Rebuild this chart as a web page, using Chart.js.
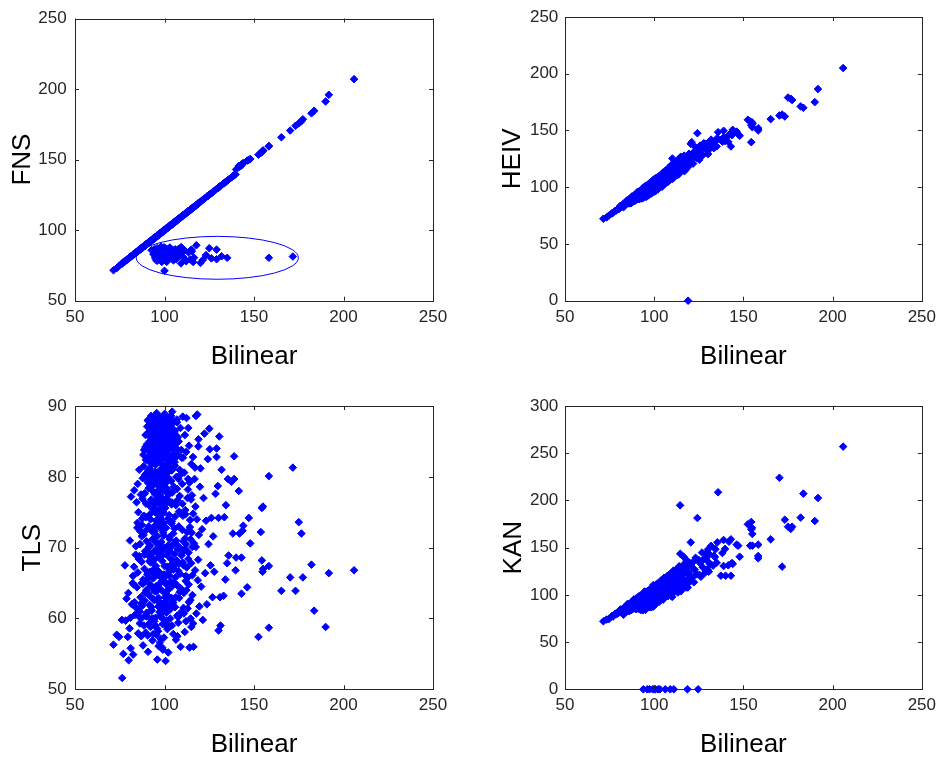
<!DOCTYPE html>
<html>
<head>
<meta charset="utf-8">
<script src="https://cdn.jsdelivr.net/npm/chart.js@4.4.1/dist/chart.umd.min.js"></script>
<style>
  body { margin: 0; background: #fff; width: 942px; height: 760px; position: relative; overflow: hidden; }
  canvas { position: absolute; }
</style>
</head>
<body>
<canvas id="fnsChart" width="471" height="380" style="left:0;top:0"></canvas>
<canvas id="heivChart" width="471" height="380" style="left:471px;top:0"></canvas>
<canvas id="tlsChart" width="471" height="380" style="left:0;top:380px"></canvas>
<canvas id="kanChart" width="471" height="380" style="left:471px;top:380px"></canvas>
<script>
// same bilinear estimate for every panel, one entry per image
const bilinear = [
  71.5, 73.3, 74.6, 76.2, 76.4, 77.0, 77.9, 78.3, 78.8, 79.5,
  79.8, 80.0, 80.5, 80.7, 81.1, 81.3, 81.8, 82.2, 82.5, 83.0,
  83.1, 83.5, 83.9, 84.2, 84.6, 84.9, 85.1, 85.4, 85.9, 86.0,
  86.3, 86.6, 86.8, 87.0, 87.2, 87.4, 87.6, 87.8, 88.0, 88.1,
  88.3, 88.5, 88.6, 88.8, 89.0, 89.1, 89.2, 89.4, 89.5, 89.6,
  89.7, 89.8, 89.9, 90.0, 90.2, 90.3, 90.5, 90.6, 90.8, 90.9,
  91.0, 91.2, 91.3, 91.5, 91.6, 91.8, 91.9, 92.0, 92.1, 92.3,
  92.4, 92.5, 92.6, 92.8, 92.9, 93.0, 93.1, 93.2, 93.3, 93.5,
  93.6, 93.7, 93.8, 93.9, 94.0, 94.1, 94.2, 94.3, 94.4, 94.5,
  94.6, 94.7, 94.8, 94.9, 95.0, 95.1, 95.2, 95.3, 95.4, 95.5,
  91.4, 92.2, 93.4, 94.1, 95.3, 91.7, 92.7, 93.9, 94.6, 95.6,
  91.1, 92.0, 93.0, 93.8, 94.8, 95.7, 92.4, 93.6, 94.3, 95.8,
  95.9, 96.0, 96.1, 96.2, 96.3, 96.4, 96.5, 96.6, 96.7, 96.8,
  96.9, 97.0, 97.1, 97.2, 97.3, 97.4, 97.5, 97.6, 97.7, 97.8,
  97.9, 98.0, 98.1, 98.2, 98.3, 98.4, 98.5, 98.6, 98.7, 98.8,
  98.9, 99.0, 99.1, 99.2, 99.3, 99.4, 99.5, 99.6, 99.7, 99.8,
  99.9, 100.0, 96.3, 97.0, 97.8, 98.5, 99.2, 95.9, 96.7, 97.5,
  98.2, 99.0, 99.7, 96.1, 96.9, 97.7, 98.4, 99.3, 100.0, 96.5,
  97.3, 98.0, 98.8, 99.5, 96.0, 96.8, 97.6, 98.3, 99.1, 99.9,
  100.1, 100.2, 100.3, 100.4, 100.5, 100.6, 100.7, 100.8, 100.9, 101.0,
  101.2, 101.4, 101.5, 101.6, 101.8, 101.9, 102.0, 102.1, 102.3, 102.4,
  102.5, 102.6, 102.8, 102.9, 103.0, 103.2, 103.3, 103.5, 103.6, 103.8,
  103.9, 104.0, 104.1, 104.3, 104.4, 104.6, 104.7, 104.8, 104.9, 105.0,
  100.4, 101.1, 101.7, 102.2, 102.7, 103.1, 103.7, 104.2, 104.5, 100.9,
  101.3, 102.0, 102.6, 103.4, 104.0, 104.6, 100.2, 101.9, 103.0, 104.9,
  105.2, 105.4, 105.5, 105.7, 105.9, 106.0, 106.2, 106.4, 106.5, 106.7,
  106.9, 107.0, 107.2, 107.4, 107.5, 107.7, 107.9, 108.0, 108.2, 108.4,
  108.5, 108.7, 108.9, 109.0, 109.2, 109.4, 109.5, 109.7, 109.9, 110.0,
  105.6, 106.3, 107.1, 107.8, 108.6, 109.3, 105.1, 106.8, 108.1, 109.6,
  110.2, 110.5, 110.8, 111.0, 111.3, 111.6, 111.9, 112.1, 112.3, 112.6,
  112.9, 113.1, 113.4, 113.7, 114.0, 114.3, 114.5, 114.8, 115.0, 110.7,
  111.4, 112.0, 112.8, 113.5, 114.2, 114.9, 110.3, 111.8, 113.2, 114.6,
  115.3, 115.6, 115.9, 116.2, 116.5, 116.8, 117.1, 117.5, 117.8, 118.1,
  118.3, 118.6, 118.9, 119.2, 119.5, 119.8, 116.0, 117.3, 118.8, 119.0,
  120.1, 120.5, 121.0, 121.4, 121.8, 122.3, 122.7, 123.2, 123.7, 124.2,
  124.6, 125.0, 125.3, 125.7, 126.2, 126.8, 127.2, 127.8, 128.5, 129.1,
  129.1, 129.8, 130.2, 130.2, 130.6, 131.0, 131.3, 131.9, 133.0, 133.4,
  134.0, 134.3, 135.0, 135.4, 135.8, 137.4, 138.2, 138.9, 138.9, 139.7,
  140.0, 141.5, 141.9, 143.0, 143.0, 143.6, 144.0, 146.2, 147.1, 147.9,
  152.5, 153.8, 154.4, 154.4, 155.0, 155.1, 154.8, 158.3, 158.3, 158.3,
  165.3, 170.2, 171.7, 173.2, 175.0, 176.5, 177.3, 182.1, 183.6, 190.0,
  191.8, 205.9, 95.2, 96.4, 97.9, 99.6, 101.6, 102.9, 93.2, 94.7,
  88.4, 89.3, 90.1, 90.7, 91.4, 92.1, 92.9, 93.4, 94.0, 94.8,
  95.3, 95.9, 96.4, 97.0, 97.5, 98.1, 98.6, 99.2, 99.8, 100.5,
  101.0, 101.7, 102.3, 103.0, 103.6, 104.3, 105.0, 105.8, 106.6, 107.5,
  88.9, 90.4, 91.9, 93.6, 95.0, 96.6, 98.0, 99.4, 100.8, 102.5,
  86.9, 87.9, 89.8, 91.1, 92.6, 94.2, 95.6, 97.2, 98.9, 100.3,
  101.8, 103.3, 104.7, 106.1, 107.6, 109.1, 110.6, 112.2, 96.1, 93.1,
  84.0, 85.6, 87.3, 88.7, 90.0, 91.6, 93.3, 95.0, 96.8, 98.4,
  99.9, 101.5, 103.1, 104.8, 106.3, 108.0, 109.8, 111.5, 113.3, 115.5,
  92.4, 93.9, 95.5, 97.1, 98.7, 100.2, 101.9, 103.7, 105.4, 107.0,
  89.6, 91.2, 92.8, 94.4, 96.0, 97.6, 99.3, 100.9, 102.6, 104.1,
  82.4, 84.8, 86.2, 87.7, 89.1, 90.6, 92.0, 93.5, 95.0, 96.5,
  98.0, 99.5, 101.0, 102.5, 104.0, 105.5, 107.0, 108.5, 110.0, 111.5,
  113.0, 114.5, 116.0, 117.5, 83.3, 85.0, 86.5, 88.2, 89.9, 91.3,
  92.8, 94.3, 95.8, 97.3, 98.8, 100.3, 101.8, 103.3, 104.8, 106.3,
  107.8, 109.3, 110.8, 112.4, 114.0, 115.6, 81.0, 82.8, 84.4, 86.0,
  87.5, 89.0, 90.5, 92.1, 93.7, 95.2, 96.7, 98.2, 99.7, 101.2,
  102.7, 104.2, 105.7, 107.2, 108.7, 110.3, 111.9, 113.6, 115.2, 117.0,
  85.3, 87.0, 88.6, 90.2, 91.8, 93.4, 95.0, 96.6, 98.1, 99.6,
  101.1, 102.6, 104.1, 105.6, 107.1, 108.6, 110.1, 111.7, 113.3, 115.0,
  90.9, 92.5, 94.0, 95.6, 97.1, 98.6, 100.1, 101.6, 103.1, 104.6,
  91.7, 93.2, 94.7, 96.2, 97.7, 99.2, 100.7, 102.2, 103.7, 105.3,
  90.0, 91.5, 93.0, 94.6, 96.1, 97.6, 99.1, 100.6, 102.1, 103.6,
  88.7, 90.3, 91.9, 93.4, 95.0, 96.5, 98.0, 99.5, 101.0, 102.6,
  87.4, 89.1, 90.7, 92.3, 93.9, 95.4, 96.9, 98.4, 99.9, 101.4,
  86.1, 87.8, 89.5, 91.1, 92.7, 94.3, 95.8, 97.4, 98.9, 100.4
]

const fns = [
  71.6, 73.1, 74.8, 76.0, 76.6, 77.3, 77.8, 78.5, 78.6, 79.7,
  79.9, 80.2, 80.4, 80.9, 81.0, 81.5, 81.7, 82.4, 82.6, 83.1,
  83.0, 83.6, 84.1, 84.0, 84.7, 85.1, 85.0, 85.6, 85.8, 86.2,
  86.4, 86.5, 87.0, 87.1, 87.3, 87.2, 87.7, 88.0, 87.9, 88.3,
  88.2, 88.6, 88.7, 88.9, 89.2, 89.0, 89.3, 89.5, 89.4, 89.8,
  89.6, 89.9, 90.0, 90.1, 90.3, 90.2, 90.6, 90.5, 90.9, 91.0,
  91.1, 91.0, 91.4, 91.6, 91.5, 91.9, 92.0, 91.9, 92.2, 92.2,
  92.5, 92.4, 92.7, 85.8, 93.0, 92.9, 93.2, 93.1, 93.4, 93.6,
  93.7, 93.6, 83.0, 94.0, 94.1, 94.0, 94.3, 86.5, 94.3, 94.6,
  94.7, 81.8, 94.9, 95.0, 95.1, 84.6, 95.3, 95.2, 78.7, 95.6,
  91.5, 92.1, 93.5, 94.2, 95.2, 91.6, 92.8, 94.0, 94.5, 95.7,
  91.2, 92.1, 92.9, 93.9, 80.3, 95.8, 92.3, 93.7, 94.2, 87.2,
  82.4, 95.9, 96.2, 85.0, 96.2, 96.5, 79.6, 96.5, 96.8, 83.7,
  97.0, 86.3, 97.2, 97.3, 81.1, 97.5, 97.6, 84.0, 97.8, 97.7,
  80.6, 98.1, 98.0, 83.2, 98.2, 98.5, 77.5, 98.7, 98.6, 86.8,
  99.0, 84.5, 99.2, 99.1, 99.4, 79.2, 99.6, 99.5, 87.9, 99.7,
  100.0, 82.0, 96.4, 97.1, 85.6, 98.4, 99.3, 78.3, 96.6, 97.6,
  98.3, 98.9, 81.3, 96.2, 96.8, 97.8, 86.0, 99.4, 71.2, 96.4,
  97.4, 88.3, 98.9, 99.6, 96.1, 80.9, 97.7, 98.2, 99.2, 83.5,
  100.2, 100.1, 84.8, 100.3, 100.6, 79.8, 100.8, 100.7, 86.9, 100.9,
  77.5, 101.3, 101.6, 82.7, 101.9, 101.8, 102.1, 85.4, 102.4, 102.3,
  102.6, 80.2, 102.9, 102.8, 87.7, 103.3, 103.2, 103.6, 83.1, 103.9,
  81.4, 103.9, 104.2, 104.4, 104.3, 85.9, 104.6, 104.9, 104.8, 78.6,
  100.5, 101.2, 86.2, 102.3, 102.8, 103.0, 82.1, 104.1, 104.6, 101.0,
  101.4, 84.1, 102.7, 103.5, 80.0, 104.7, 100.3, 102.0, 87.3, 104.8,
  105.3, 82.9, 105.6, 105.8, 105.8, 86.4, 106.3, 106.3, 79.5, 106.8,
  84.7, 106.9, 107.3, 80.6, 107.4, 107.8, 108.0, 86.8, 108.3, 108.5,
  108.6, 83.6, 109.0, 108.9, 76.4, 109.5, 85.2, 109.8, 109.9, 81.0,
  105.7, 106.2, 83.0, 107.9, 108.5, 88.0, 105.2, 106.7, 108.2, 109.5,
  110.3, 80.8, 110.9, 111.1, 85.6, 111.7, 111.8, 78.0, 112.4, 112.5,
  113.0, 113.0, 84.3, 113.6, 114.1, 79.3, 114.6, 114.7, 86.2, 110.8,
  111.5, 111.9, 112.9, 113.4, 114.3, 114.8, 110.4, 111.7, 113.3, 114.7,
  85.0, 115.5, 116.0, 116.1, 80.5, 116.7, 117.2, 117.4, 89.3, 118.0,
  118.2, 118.7, 118.8, 119.3, 119.4, 119.9, 77.4, 117.4, 118.9, 119.1,
  76.8, 120.4, 121.1, 78.9, 121.9, 122.2, 122.8, 82.3, 123.8, 124.1,
  124.7, 87.2, 125.4, 125.6, 80.0, 126.7, 127.3, 127.7, 128.6, 79.4,
  86.2, 129.7, 130.3, 130.1, 130.7, 130.9, 131.4, 81.5, 133.1, 133.3,
  134.1, 134.2, 80.4, 135.3, 135.9, 137.3, 138.3, 138.8, 139.0, 139.6,
  143.0, 145.5, 145.0, 146.6, 145.8, 147.0, 147.6, 149.3, 149.8, 150.5,
  153.5, 154.7, 155.4, 155.6, 156.3, 156.5, 156.0, 80.4, 159.4, 159.6,
  165.8, 170.6, 81.3, 174.0, 175.7, 177.2, 178.6, 182.8, 184.6, 191.2,
  195.9, 207.0, 95.3, 96.3, 98.0, 84.0, 101.7, 86.5, 93.3, 94.8,
  88.5, 89.2, 90.2, 90.6, 91.5, 92.0, 93.0, 93.3, 94.1, 94.7,
  95.4, 95.8, 96.5, 97.1, 97.4, 98.2, 98.5, 99.3, 99.7, 100.6,
  101.1, 101.6, 102.4, 102.9, 103.7, 104.2, 105.1, 105.7, 106.7, 107.4,
  89.0, 90.3, 92.0, 93.5, 95.1, 96.5, 98.1, 99.3, 100.9, 102.4,
  87.0, 87.8, 89.9, 91.2, 92.5, 94.3, 95.5, 97.3, 98.8, 100.4,
  101.9, 103.2, 104.8, 106.0, 107.7, 109.0, 110.7, 112.1, 96.0, 93.2,
  84.1, 85.5, 87.4, 88.6, 90.1, 91.5, 93.4, 94.9, 96.9, 98.3,
  100.0, 101.4, 103.2, 104.7, 106.4, 107.9, 109.9, 111.4, 113.4, 115.4,
  92.5, 93.8, 95.6, 97.0, 98.8, 100.1, 102.0, 103.6, 105.5, 106.9,
  89.7, 91.1, 92.9, 94.3, 96.1, 97.5, 99.4, 100.8, 102.7, 104.0,
  82.5, 84.7, 86.3, 87.6, 89.2, 90.5, 92.1, 93.4, 95.1, 96.4,
  98.1, 99.4, 101.1, 102.4, 104.1, 105.4, 107.1, 108.4, 110.1, 111.4,
  113.1, 114.4, 116.1, 117.4, 83.4, 84.9, 86.6, 88.1, 90.0, 91.2,
  92.9, 94.2, 95.9, 97.2, 98.9, 100.2, 101.9, 103.2, 104.9, 106.2,
  107.9, 109.2, 110.9, 112.3, 114.1, 115.5, 81.1, 82.7, 84.5, 85.9,
  87.6, 88.9, 90.6, 92.0, 93.8, 95.1, 96.8, 98.1, 99.8, 101.1,
  102.8, 104.1, 105.8, 107.1, 108.8, 110.2, 112.0, 113.5, 115.3, 116.9,
  85.4, 86.9, 88.7, 90.1, 91.9, 93.3, 95.1, 96.5, 98.2, 99.5,
  101.2, 102.5, 104.2, 105.5, 107.2, 108.5, 110.2, 111.6, 113.4, 114.9,
  91.0, 92.4, 94.1, 95.5, 97.2, 98.5, 100.2, 101.5, 103.2, 104.5,
  91.8, 93.1, 94.8, 96.1, 97.8, 99.1, 100.8, 102.1, 103.8, 105.2,
  90.1, 91.4, 93.1, 94.5, 96.2, 97.5, 99.2, 100.5, 102.2, 103.5,
  88.8, 90.2, 92.0, 93.3, 95.1, 96.4, 98.1, 99.4, 101.1, 102.5,
  87.5, 89.0, 90.8, 92.2, 94.0, 95.3, 97.0, 98.3, 100.0, 101.3,
  86.2, 87.7, 89.6, 91.0, 92.8, 94.2, 95.9, 97.3, 99.0, 100.3
]

const heiv = [
  72.2, 73.4, 75.0, 76.8, 77.1, 77.6, 78.9, 79.2, 79.5, 80.6,
  80.9, 81.2, 81.1, 82.0, 82.4, 82.7, 82.9, 83.8, 83.4, 84.3,
  84.6, 84.2, 85.3, 85.7, 85.5, 86.4, 86.1, 87.0, 87.6, 86.8,
  88.0, 87.2, 89.1, 87.9, 88.6, 89.6, 88.3, 90.0, 89.0, 89.7,
  90.4, 89.9, 91.0, 90.3, 91.6, 90.7, 92.0, 91.2, 92.4, 91.6,
  92.2, 93.0, 91.8, 93.5, 92.1, 94.0, 92.6, 93.1, 94.4, 92.8,
  93.0, 90.2, 94.3, 91.5, 95.6, 89.8, 92.9, 95.0, 91.1, 94.3,
  90.4, 95.5, 92.6, 97.8, 91.9, 95.0, 90.1, 97.2, 94.3, 92.5,
  96.6, 91.7, 94.8, 98.9, 91.0, 94.1, 96.2, 93.3, 98.4, 95.5,
  93.6, 98.7, 96.8, 91.9, 101.0, 95.1, 93.2, 98.3, 96.4, 91.5,
  92.4, 96.2, 91.4, 96.1, 94.3, 94.7, 92.7, 98.9, 91.6, 97.6,
  94.1, 91.0, 94.0, 91.8, 98.8, 95.7, 94.4, 90.6, 97.3, 100.8,
  96.9, 101.0, 93.1, 98.2, 96.3, 100.4, 94.5, 102.6, 97.7, 92.8,
  95.9, 100.0, 98.1, 94.2, 102.3, 99.4, 95.5, 101.6, 97.7, 103.8,
  99.9, 96.0, 102.1, 98.2, 104.3, 94.4, 101.5, 99.6, 97.7, 103.8,
  95.9, 101.0, 104.1, 98.2, 102.3, 99.4, 106.5, 97.6, 103.7, 100.8,
  101.9, 96.0, 97.3, 101.0, 95.8, 101.5, 105.2, 94.9, 98.7, 97.5,
  96.2, 104.0, 100.7, 93.1, 99.9, 98.7, 97.4, 103.3, 107.0, 98.5,
  100.3, 97.0, 104.8, 101.5, 94.0, 97.8, 101.6, 98.3, 96.1, 104.9,
  100.1, 104.2, 97.3, 106.4, 102.5, 99.6, 105.7, 101.8, 96.9, 104.0,
  103.2, 99.4, 106.5, 102.6, 108.8, 100.9, 105.0, 98.1, 106.3, 102.4,
  103.5, 107.6, 100.8, 105.9, 109.0, 100.2, 105.3, 107.5, 102.6, 110.8,
  101.9, 107.0, 105.1, 110.3, 100.4, 106.6, 109.7, 104.8, 112.9, 108.0,
  103.4, 100.1, 103.7, 107.2, 100.7, 107.1, 104.8, 101.2, 110.5, 102.9,
  102.3, 106.0, 99.6, 105.4, 110.0, 103.6, 103.2, 106.9, 103.0, 106.9,
  107.2, 111.4, 103.5, 109.7, 106.9, 114.0, 103.2, 109.4, 111.5, 106.7,
  110.9, 106.0, 114.2, 109.4, 112.5, 104.7, 116.9, 109.0, 111.2, 114.4,
  109.5, 113.7, 106.9, 117.0, 112.2, 115.4, 109.5, 119.7, 113.9, 112.0,
  108.6, 105.3, 112.1, 109.8, 115.6, 107.3, 106.1, 112.8, 112.1, 112.6,
  125.3, 113.5, 109.8, 117.0, 113.3, 119.6, 111.9, 117.1, 122.3, 115.6,
  117.9, 111.1, 121.4, 115.7, 125.0, 118.3, 125.0, 115.8, 122.0, 109.7,
  113.4, 119.0, 111.8, 122.5, 117.2, 126.9, 114.3, 111.8, 119.2, 116.6,
  119.3, 124.6, 114.9, 122.2, 118.5, 127.8, 120.1, 124.5, 115.8, 123.1,
  121.3, 126.6, 117.9, 125.2, 129.5, 120.8, 121.0, 126.3, 122.8, 0,
  123.1, 138.2, 139.7, 128.4, 120.8, 131.3, 126.7, 135.2, 125.7, 147.6,
  128.6, 133.0, 124.3, 136.7, 129.2, 133.8, 128.2, 138.8, 138.2, 134.1,
  135.1, 131.8, 139.2, 129.2, 134.6, 138.0, 134.3, 141.9, 138.0, 134.4,
  137.0, 140.3, 136.0, 143.4, 148.5, 141.4, 140.2, 149.7, 143.9, 140.7,
  143.2, 140.0, 146.1, 135.9, 147.8, 145.9, 150.6, 149.0, 146.5, 145.3,
  159.4, 158.0, 139.7, 154.7, 152.9, 156.0, 157.2, 150.0, 152.0, 151.0,
  160.0, 163.2, 164.0, 162.4, 179.0, 178.0, 176.8, 171.2, 170.0, 175.0,
  186.5, 205.0, 97.2, 101.4, 96.9, 102.6, 107.6, 103.9, 96.2, 95.7,
  90.1, 91.5, 92.9, 91.8, 94.6, 93.0, 96.3, 95.1, 92.4, 97.7,
  98.2, 94.9, 100.9, 99.0, 95.6, 102.4, 99.8, 97.3, 104.1, 101.5,
  104.6, 99.9, 106.9, 104.2, 101.1, 108.7, 106.0, 110.4, 104.3, 112.0,
  91.2, 93.9, 92.6, 96.8, 96.2, 100.3, 99.4, 103.7, 102.1, 106.8,
  88.4, 90.6, 91.9, 94.0, 93.7, 97.5, 96.9, 100.8, 99.6, 103.9,
  103.0, 107.4, 106.1, 110.9, 109.2, 114.6, 113.0, 118.4, 99.1, 94.6,
  85.9, 86.8, 89.8, 90.9, 93.2, 93.1, 96.9, 97.4, 100.5, 100.9,
  103.8, 102.9, 107.5, 106.8, 111.0, 110.4, 115.2, 114.0, 119.5, 118.9,
  94.9, 95.7, 99.3, 99.6, 103.4, 103.1, 107.3, 106.9, 111.2, 110.6,
  91.5, 94.8, 94.1, 98.4, 97.3, 101.6, 100.5, 105.2, 104.0, 108.6,
  85.0, 86.2, 89.5, 88.6, 93.0, 91.4, 96.2, 94.0, 99.7, 96.8,
  104.5, 99.0, 108.1, 101.6, 110.7, 104.3, 114.6, 107.0, 118.2, 110.5,
  121.4, 113.5, 124.2, 118.1, 84.2, 88.6, 87.0, 92.1, 90.4, 95.6,
  91.6, 99.8, 94.5, 103.1, 97.0, 106.4, 99.2, 109.5, 102.0, 112.3,
  105.3, 116.9, 108.2, 120.8, 112.0, 125.4, 83.6, 82.4, 87.9, 85.7,
  91.9, 88.3, 95.7, 90.4, 99.5, 93.1, 102.2, 95.6, 105.6, 98.4,
  108.9, 101.5, 112.4, 104.6, 116.1, 107.4, 119.3, 111.3, 122.9, 114.2,
  88.2, 85.9, 92.5, 89.1, 96.4, 92.2, 98.9, 95.0, 102.8, 97.9,
  99.9, 109.6, 102.6, 113.1, 105.9, 117.5, 109.0, 121.6, 112.6, 126.1,
  95.2, 90.9, 97.8, 94.1, 101.4, 96.6, 104.7, 99.5, 108.2, 101.9,
  89.6, 97.0, 92.4, 100.6, 95.3, 103.8, 97.9, 106.9, 100.8, 110.1,
  93.8, 95.9, 91.0, 98.7, 94.2, 101.3, 97.1, 104.0, 99.6, 107.3,
  89.3, 94.1, 90.6, 97.2, 93.4, 99.9, 96.1, 102.9, 98.8, 105.7,
  90.8, 87.9, 94.2, 91.7, 97.5, 94.4, 100.1, 97.0, 103.5, 99.8,
  89.6, 86.9, 93.0, 90.0, 96.3, 93.6, 99.2, 96.1, 102.3, 98.7
]

const tls = [
  56.3, 57.7, 57.4, 59.8, 51.6, 55.0, 67.5, 59.7, 62.8, 57.4,
  63.6, 54.1, 58.6, 71.0, 55.8, 77.2, 62.0, 65.0, 54.9, 67.3,
  78.1, 60.5, 69.0, 61.5, 64.4, 73.5, 66.5, 75.0, 81.0, 60.2,
  70.5, 63.0, 77.5, 57.5, 68.0, 73.2, 61.8, 79.8, 56.2, 65.5,
  71.8, 59.0, 74.5, 67.0, 62.5, 80.3, 69.5, 85.9, 58.0, 82.4,
  76.2, 64.0, 72.5, 60.8, 84.6, 87.1, 66.2, 79.2, 55.3, 82.8,
  86.3, 78.4, 70.1, 84.0, 63.2, 81.2, 74.7, 87.6, 58.8, 67.9,
  83.1, 85.5, 76.8, 61.1, 80.6, 72.3, 86.9, 65.7, 56.9, 79.1,
  84.8, 69.3, 82.0, 87.8, 62.7, 75.9, 80.0, 59.6, 85.9, 71.4,
  77.6, 83.7, 66.4, 86.4, 60.1, 81.7, 73.8, 88.1, 57.7, 64.6,
  68.8, 74.0, 78.0, 83.4, 70.7, 61.9, 85.2, 66.9, 87.3, 79.6,
  80.9, 64.8, 87.0, 72.9, 82.5, 75.2, 59.9, 84.5, 68.3, 86.0,
  83.8, 71.6, 87.5, 64.1, 80.4, 58.2, 85.7, 76.3, 68.7, 82.1,
  86.8, 62.4, 79.5, 74.4, 84.2, 56.6, 88.3, 70.0, 81.0, 66.1,
  85.1, 77.2, 60.6, 83.0, 72.6, 87.9, 65.3, 80.7, 55.9, 84.7,
  69.6, 86.2, 78.8, 61.5, 82.7, 74.9, 87.0, 63.7, 57.3, 81.4,
  85.4, 67.4, 73.1, 80.1, 87.7, 76.6, 84.4, 79.9, 62.9, 83.3,
  70.8, 59.2, 86.6, 66.8, 82.3, 75.5, 81.9, 72.1, 88.6, 78.1,
  64.9, 85.8, 68.1, 79.3, 54.2, 87.2, 60.3, 83.5, 55.6, 76.0,
  84.0, 72.7, 87.4, 65.9, 80.2, 54.0, 76.9, 86.5, 61.2, 82.9,
  69.0, 85.6, 78.3, 58.5, 83.6, 74.1, 88.0, 55.2, 66.6, 81.6,
  86.7, 63.0, 79.7, 71.2, 84.9, 60.0, 76.4, 87.1, 68.4, 82.4,
  73.4, 80.9, 64.5, 89.2, 77.8, 85.3, 62.2, 70.4, 57.8, 83.2,
  75.6, 62.6, 81.3, 86.1, 58.9, 73.7, 79.4, 67.7, 84.1, 88.4,
  59.7, 70.3, 83.9, 65.2, 76.1, 81.1, 79.0, 64.0, 86.4, 72.0,
  78.6, 86.0, 67.0, 82.1, 61.6, 74.4, 84.6, 57.0, 71.0, 80.0,
  88.1, 64.7, 76.7, 83.1, 69.8, 59.4, 85.0, 73.0, 62.9, 81.0,
  77.3, 66.3, 86.9, 56.0, 74.8, 83.8, 68.9, 61.0, 79.0, 72.5,
  65.0, 76.0, 60.4, 79.7, 70.0, 64.2, 85.8, 68.2, 75.1, 82.7,
  88.5, 70.9, 63.6, 80.6, 58.1, 75.3, 66.0, 83.5, 88.3, 72.2,
  61.4, 78.2, 69.3, 84.4, 55.9, 73.9, 62.6, 76.8, 81.8, 67.5,
  85.9, 59.6, 77.0, 64.8, 72.9, 67.8, 74.5, 65.3, 79.7, 60.0,
  77.4, 63.3, 82.8, 56.0, 70.6, 79.7, 66.8, 88.6, 60.7, 74.0,
  88.8, 65.4, 84.3, 71.8, 61.7, 78.6, 59.3, 75.8, 68.3, 85.3,
  81.2, 64.5, 72.6, 59.8, 77.0, 86.1, 66.4, 73.8, 62.0, 82.5,
  70.5, 86.8, 83.9, 67.5, 74.2, 63.0, 71.6, 66.6, 77.6, 84.0,
  82.8, 78.7, 74.2, 58.3, 85.7, 63.0, 59.0, 81.0, 63.2, 74.3,
  65.5, 76.0, 67.8, 79.7, 68.9, 79.3, 72.0, 82.9, 79.7, 66.8,
  68.6, 78.0, 72.0, 68.6, 63.5, 72.4, 73.1, 64.4, 74.2, 70.6,
  57.4, 72.2, 75.6, 68.2, 75.8, 67.0, 66.6, 80.1, 67.4, 58.7,
  63.9, 65.8, 81.3, 63.9, 73.6, 72.0, 65.8, 67.6, 61.1, 58.8,
  66.4, 66.8, 73.2, 69.2, 77.7, 73.4, 76.7, 69.5, 81.9, 75.0,
  81.5, 84.2, 86.0, 88.0, 83.6, 85.8, 82.0, 87.2, 84.6, 80.7,
  86.6, 83.0, 88.0, 85.3, 82.6, 86.9, 84.0, 88.4, 85.7, 83.4,
  86.2, 84.5, 87.7, 82.3, 85.1, 87.9, 84.0, 86.5, 82.8, 85.6,
  77.6, 80.2, 76.4, 78.8, 80.5, 77.1, 79.6, 81.1, 77.9, 80.8,
  62.1, 64.9, 60.6, 63.5, 61.2, 64.2, 62.6, 60.9, 65.4, 63.0,
  61.8, 64.5, 62.3, 65.8, 60.2, 63.9, 61.5, 64.0, 66.2, 66.6,
  70.2, 68.4, 71.6, 69.0, 70.9, 68.1, 71.2, 69.7, 70.5, 68.8,
  70.0, 67.3, 69.9, 66.9, 70.6, 67.7, 69.2, 71.3, 68.4, 70.1,
  87.4, 86.1, 87.9, 86.6, 87.3, 88.2, 86.9, 88.6, 86.3, 87.7,
  74.3, 73.0, 75.8, 72.3, 74.9, 73.4, 75.2, 72.8, 74.6, 73.7,
  66.0, 72.8, 59.3, 76.9, 65.2, 57.6, 70.3, 75.4, 59.0, 61.7,
  57.1, 71.7, 60.8, 77.5, 62.9, 69.1, 78.3, 63.7, 76.2, 69.8,
  65.8, 71.2, 74.8, 70.1, 62.3, 79.0, 72.3, 83.1, 60.3, 76.0,
  68.2, 63.9, 78.9, 66.0, 61.9, 79.1, 58.8, 61.3, 67.4, 63.0,
  66.7, 80.4, 60.7, 67.2, 79.2, 66.1, 60.1, 64.8, 76.4, 68.8,
  74.1, 77.7, 65.6, 80.0, 57.8, 67.4, 56.1, 74.0, 59.4, 76.3,
  71.5, 59.0, 81.6, 57.5, 64.3, 82.7, 70.5, 62.3, 72.1, 81.3,
  57.9, 60.0, 83.8, 69.6, 66.6, 60.0, 76.6, 73.8, 78.4, 66.2,
  64.8, 66.1, 76.4, 72.7, 83.9, 60.6, 67.9, 74.7, 86.9, 58.8,
  87.9, 88.6, 88.3, 89.0, 88.5, 87.6, 88.9, 87.9, 88.4, 87.5,
  85.0, 84.3, 85.5, 84.7, 85.9, 84.9, 85.1, 84.4, 85.3, 84.6,
  82.7, 82.1, 83.0, 82.4, 82.9, 82.2, 83.2, 82.6, 81.9, 82.8,
  79.9, 80.6, 79.4, 80.2, 79.7, 80.4, 79.5, 80.3, 79.8, 80.9,
  65.0, 63.6, 66.4, 64.6, 65.7, 63.8, 66.6, 64.0, 65.3, 63.3,
  61.0, 62.2, 60.4, 59.2, 61.6, 62.6, 58.6, 61.9, 60.0, 62.4
]

const kan = [
  72.0, 73.9, 74.4, 76.9, 77.8, 77.2, 79.3, 80.1, 79.4, 81.2,
  81.6, 80.8, 82.5, 83.4, 82.1, 84.2, 82.9, 85.1, 83.7, 86.0,
  84.3, 86.4, 85.0, 87.1, 86.2, 88.0, 86.4, 88.3, 88.9, 86.1,
  90.0, 87.5, 91.2, 88.0, 89.6, 92.1, 88.4, 90.6, 90.1, 91.5,
  93.0, 89.6, 92.2, 91.1, 94.0, 90.4, 93.6, 92.0, 95.1, 91.2,
  94.2, 92.5, 96.1, 93.0, 91.5, 95.0, 93.8, 97.2, 92.2, 94.8,
  88.0, 95.2, 85.3, 92.5, 89.6, 97.8, 86.9, 92.0, 95.1, 84.3,
  97.4, 88.5, 94.6, 85.8, 99.9, 92.0, 84.1, 96.2, 90.3, 99.5,
  88.6, 95.7, 83.8, 98.9, 94.0, 91.1, 102.2, 88.3, 95.4, 92.5,
  98.6, 87.7, 95.8, 90.9, 102.0, 84.1, 97.2, 93.3, 100.4, 89.5,
  89.4, 95.2, 86.4, 100.1, 91.3, 85.7, 96.7, 0, 103.6, 92.6,
  93.1, 87.0, 98.0, 85.8, 97.8, 93.7, 89.4, 100.6, 85.3, 96.8,
  91.9, 99.0, 0, 102.2, 95.3, 97.4, 90.5, 104.6, 93.7, 100.8,
  98.9, 92.0, 102.1, 87.2, 97.3, 0, 94.5, 90.6, 100.7, 96.8,
  91.9, 102.0, 96.1, 106.2, 87.3, 99.4, 94.5, 103.6, 90.7, 100.8,
  101.9, 92.0, 105.1, 0, 100.3, 87.4, 103.5, 94.6, 108.7, 98.8,
  0, 105.0, 94.3, 98.0, 92.8, 105.5, 96.2, 97.9, 89.7, 101.5,
  104.2, 96.0, 89.7, 99.1, 92.9, 98.7, 106.4, 93.3, 102.0, 95.5,
  96.3, 102.0, 92.8, 101.5, 93.0, 88.8, 103.6, 96.3, 104.1, 95.9,
  103.1, 92.2, 106.3, 98.4, 89.5, 101.6, 0, 95.8, 99.9, 105.0,
  95.2, 103.4, 98.5, 108.6, 92.8, 105.9, 101.0, 111.1, 97.3, 103.4,
  107.5, 95.6, 104.8, 99.9, 109.0, 0, 106.3, 102.5, 111.6, 97.8,
  105.9, 100.0, 111.1, 95.3, 108.4, 102.6, 114.7, 98.8, 105.9, 95.0,
  96.4, 107.1, 93.7, 0, 107.7, 100.1, 110.7, 99.2, 107.5, 98.9,
  104.3, 96.0, 103.6, 99.4, 108.0, 97.6, 105.2, 102.9, 94.0, 110.9,
  102.2, 110.4, 97.5, 113.7, 104.9, 108.0, 0, 110.4, 101.5, 116.7,
  107.9, 101.0, 113.2, 105.4, 119.5, 98.7, 110.9, 104.0, 115.2, 107.4,
  101.5, 112.7, 105.9, 0, 99.2, 111.4, 115.5, 104.7, 122.9, 108.0,
  111.6, 102.3, 108.1, 100.8, 111.6, 104.3, 104.1, 114.8, 106.1, 113.6,
  104.2, 115.5, 108.8, 0, 103.3, 114.6, 119.9, 108.1, 113.3, 126.6,
  115.9, 105.1, 122.4, 110.7, 129.0, 108.3, 194.8, 119.8, 104.0, 117.7,
  115.4, 107.0, 122.8, 104.5, 116.2, 127.9, 107.3, 118.8, 107.2, 143.5,
  110.3, 125.6, 117.9, 108.2, 140.4, 122.8, 114.1, 129.5, 107.8, 136.9,
  111.3, 0, 129.9, 117.2, 123.5, 133.8, 112.0, 125.3, 107.8, 122.0,
  114.1, 155.6, 130.0, 118.4, 134.8, 113.3, 126.7, 139.2, 121.7, 181.4,
  0, 137.0, 121.3, 133.7, 119.2, 144.8, 129.2, 137.8, 123.5, 144.1,
  139.1, 126.8, 148.2, 135.2, 124.6, 143.0, 132.3, 151.9, 131.0, 141.4,
  140.0, 148.3, 134.0, 155.6, 208.6, 120.3, 144.3, 158.1, 130.6, 148.7,
  120.3, 131.3, 156.3, 158.8, 120.3, 133.7, 132.7, 153.2, 152.1, 140.4,
  174.7, 152.1, 177.2, 169.4, 164.5, 152.1, 171.0, 153.2, 141.2, 138.7,
  158.8, 224.0, 129.9, 179.6, 172.2, 169.8, 172.2, 181.8, 207.2, 178.2,
  202.6, 257.0, 91.2, 102.4, 95.9, 103.6, 95.6, 110.9, 95.2, 89.7,
  91.6, 88.9, 94.4, 91.2, 89.0, 96.3, 92.5, 87.8, 98.1, 93.2,
  90.5, 99.8, 94.6, 101.7, 92.0, 97.9, 105.3, 91.8, 99.2, 107.4,
  96.8, 108.3, 101.0, 97.4, 110.2, 103.5, 99.1, 112.6, 104.0, 109.8,
  89.9, 95.0, 90.2, 97.1, 93.4, 101.0, 95.6, 103.2, 97.7, 106.5,
  87.6, 86.9, 92.8, 89.3, 95.9, 91.4, 98.2, 93.0, 102.7, 96.1,
  98.6, 109.7, 101.4, 112.8, 104.9, 116.3, 107.1, 120.4, 93.0, 90.1,
  85.1, 88.6, 88.0, 92.4, 91.0, 95.9, 90.6, 99.7, 94.1, 102.6,
  95.3, 106.9, 99.0, 110.8, 102.2, 114.6, 105.7, 118.9, 109.1, 124.0,
  88.1, 99.2, 91.9, 102.5, 95.2, 106.2, 98.0, 109.9, 101.7, 113.4,
  92.7, 87.6, 96.3, 90.8, 99.9, 94.2, 103.5, 97.6, 107.1, 100.3,
  80.6, 89.9, 84.2, 92.3, 85.8, 96.0, 88.1, 99.6, 89.4, 103.0,
  86.9, 110.4, 91.4, 112.8, 96.1, 118.0, 99.3, 121.7, 101.9, 124.9,
  104.2, 127.5, 108.9, 131.0, 86.4, 82.6, 90.8, 85.5, 94.9, 86.8,
  98.3, 87.1, 101.9, 90.2, 106.4, 92.9, 109.8, 95.7, 114.1, 98.8,
  120.1, 103.8, 125.7, 106.1, 130.3, 110.4, 84.5, 78.9, 88.6, 83.0,
  84.6, 93.7, 86.5, 97.9, 89.2, 103.3, 91.6, 106.9, 93.8, 111.2,
  92.6, 115.9, 97.2, 119.6, 100.5, 123.8, 103.7, 128.9, 106.3, 133.0,
  90.4, 83.7, 95.2, 86.2, 99.1, 87.8, 101.8, 91.0, 104.2, 90.7,
  96.4, 106.7, 99.8, 110.9, 103.6, 117.1, 97.9, 113.4, 102.5, 120.6,
  92.9, 98.6, 88.5, 101.3, 92.4, 104.9, 94.6, 109.0, 96.9, 112.2,
  97.6, 86.3, 100.8, 89.5, 103.9, 91.2, 107.8, 93.4, 110.6, 96.4,
  84.9, 93.4, 96.7, 86.8, 99.6, 88.9, 102.8, 90.8, 106.1, 94.3,
  94.5, 87.2, 97.6, 90.4, 85.9, 103.1, 89.6, 106.5, 92.3, 108.4,
  86.1, 92.0, 88.7, 95.8, 90.6, 99.5, 93.1, 102.3, 91.3, 106.0,
  82.9, 91.5, 85.2, 94.6, 87.4, 97.9, 88.5, 101.6, 92.1, 104.8
]

const xRange = [50, 250]
const fnsRange = [50, 250]
const heivRange = [0, 250]
const tlsRange = [50, 90]
const kanRange = [0, 300]
// the ring drawn round the FNS failures, in data units
const fnsEllipse = {x: 129.5, y: 80.4, rx: 45.3, ry: 15.2}

Chart.defaults.font.family = "'Liberation Sans', Arial, sans-serif"
Chart.defaults.color = '#262626'
Chart.defaults.animation = false

const axisColor = '#262626'
const markColor = '#0000ff'

// matlab style box with inward ticks on all four sides
const boxTicks = {
  id: 'boxTicks',
  afterDraw(chart) {
    const {ctx, chartArea: a, scales: {x, y}} = chart
    const len = 4
    ctx.save()
    ctx.strokeStyle = axisColor
    ctx.lineWidth = 1
    ctx.beginPath()
    x.ticks.forEach(t => {
      const px = Math.round(x.getPixelForValue(t.value)) + 0.5
      ctx.moveTo(px, a.bottom); ctx.lineTo(px, a.bottom - len)
      ctx.moveTo(px, a.top); ctx.lineTo(px, a.top + len)
    })
    y.ticks.forEach(t => {
      const py = Math.round(y.getPixelForValue(t.value)) + 0.5
      ctx.moveTo(a.left, py); ctx.lineTo(a.left + len, py)
      ctx.moveTo(a.right, py); ctx.lineTo(a.right - len, py)
    })
    ctx.stroke()
    ctx.strokeRect(Math.round(a.left) + 0.5, Math.round(a.top) + 0.5,
      Math.round(a.right - a.left), Math.round(a.bottom - a.top))
    ctx.restore()
  }
}

const ring = {
  id: 'ring',
  afterDatasetsDraw(chart) {
    const {ctx, scales: {x, y}} = chart
    const cx = x.getPixelForValue(fnsEllipse.x)
    const cy = y.getPixelForValue(fnsEllipse.y)
    const rx = Math.abs(x.getPixelForValue(fnsEllipse.x + fnsEllipse.rx) - cx)
    const ry = Math.abs(y.getPixelForValue(fnsEllipse.y + fnsEllipse.ry) - cy)
    ctx.save()
    ctx.strokeStyle = markColor
    ctx.lineWidth = 1
    ctx.beginPath()
    ctx.ellipse(cx, cy, rx, ry, 0, 0, Math.PI * 2)
    ctx.stroke()
    ctx.restore()
  }
}

function panel(id, ys, yRange, yStep, yTitle, box, extra) {
  const pts = bilinear.map((b, i) => ({x: b, y: ys[i]}))
  return new Chart(document.getElementById(id), {
    type: 'scatter',
    data: {
      datasets: [{
        data: pts,
        pointStyle: 'rectRot',
        pointRadius: 3.8,
        borderWidth: 1,
        backgroundColor: markColor,
        borderColor: markColor,
        clip: false,
      }]
    },
    options: {
      responsive: false,
      events: [],
      layout: {padding: {left: 0, top: box.top, right: 471 - box.right, bottom: 0}},
      plugins: {legend: {display: false}, tooltip: {enabled: false}},
      scales: {
        x: {
          type: 'linear', min: xRange[0], max: xRange[1],
          ticks: {stepSize: 50, padding: box.xTickPad, autoSkip: false, maxRotation: 0, font: {size: 17}},
          grid: {display: false, drawTicks: false},
          border: {display: false},
          title: {display: true, text: 'Bilinear', color: '#000', font: {size: 26}, padding: {top: 0, bottom: box.xTitlePad}},
          afterFit: s => { s.height = 380 - box.bottom },
        },
        y: {
          type: 'linear', min: yRange[0], max: yRange[1],
          ticks: {stepSize: yStep, padding: box.yTickPad, autoSkip: false, font: {size: 17}},
          grid: {display: false, drawTicks: false},
          border: {display: false},
          title: {display: true, text: yTitle, color: '#000', font: {size: 26}, padding: {top: box.yTitlePad, bottom: 0}},
          afterFit: s => { s.width = box.left },
        }
      }
    },
    plugins: [boxTicks].concat(extra || [])
  })
}

panel('fnsChart', fns, fnsRange, 50, 'FNS',
  {left: 75, right: 433, top: 17, bottom: 300.7, xTickPad: 6, xTitlePad: 7.4, yTickPad: 8.3, yTitlePad: 7.4}, [ring])
panel('heivChart', heiv, heivRange, 50, 'HEIV',
  {left: 94, right: 452, top: 17, bottom: 300.7, xTickPad: 6, xTitlePad: 7.4, yTickPad: 6.7, yTitlePad: 26.4})
panel('tlsChart', tls, tlsRange, 10, 'TLS',
  {left: 75, right: 433, top: 26, bottom: 309.3, xTickPad: 6, xTitlePad: 0, yTickPad: 8.3, yTitlePad: 16.9})
panel('kanChart', kan, kanRange, 50, 'KAN',
  {left: 94, right: 452, top: 26, bottom: 309.3, xTickPad: 6, xTitlePad: 0, yTickPad: 6.7, yTitlePad: 26.9})
</script>
</body>
</html>
